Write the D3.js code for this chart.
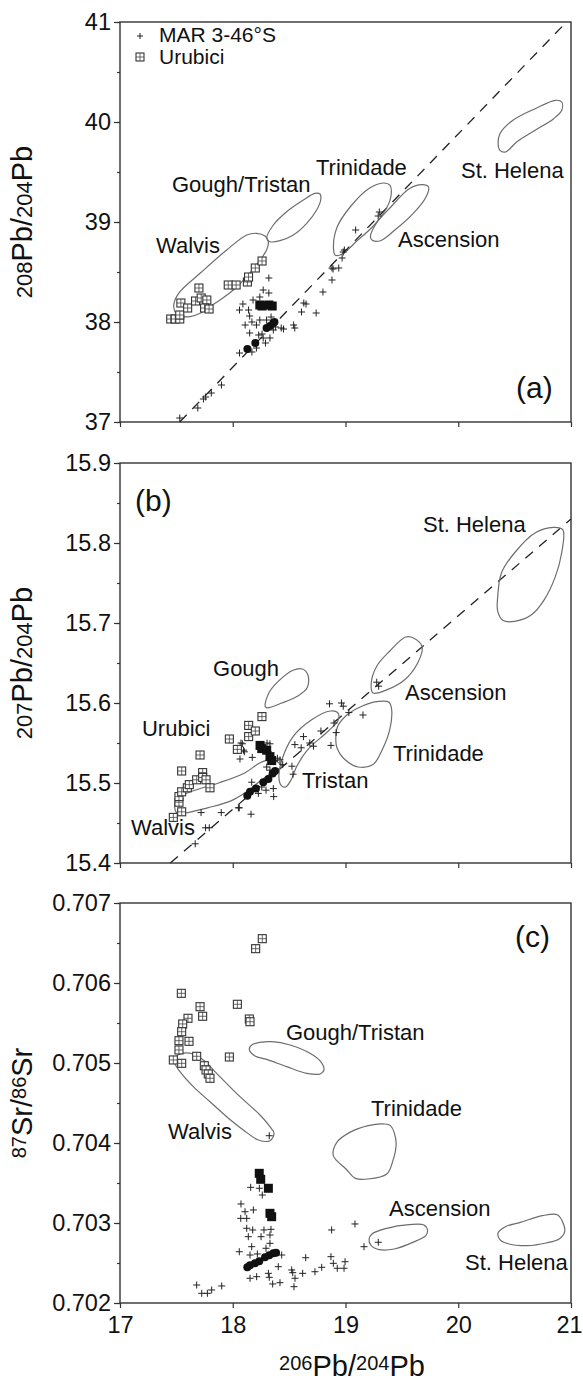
<!DOCTYPE html>
<html><head><meta charset="utf-8">
<script src="https://cdn.jsdelivr.net/npm/d3@7"></script>
<style>
body{margin:0;background:#fff}
svg{display:block}
text{font-family:"Liberation Sans",Arial,Helvetica,sans-serif;fill:#111}
</style>
</head><body><div id="chart"></div>
<script>
// ---------- tick labels ----------
const xTicks = [17, 18, 19, 20, 21];
const yTicksA = [37, 38, 39, 40, 41];
const yTicksB = [15.4, 15.5, 15.6, 15.7, 15.8, 15.9];
const yTicksC = [0.702, 0.703, 0.704, 0.705, 0.706, 0.707];

// ---------- panel (a): 208Pb/204Pb vs 206Pb/204Pb ----------
const marA = [[18.32,38.44],[18.09,38.18],[18.18,38.22],[18.24,38.25],[18.32,38.29],[18.27,38.32],[18.06,38.12],[18.14,38.12],[18.15,38.06],[18.11,37.97],[18.17,38.00],[18.21,37.97],[18.24,38.02],[18.30,38.02],[18.34,38.05],[18.36,37.92],[18.43,37.94],[18.15,37.89],[18.23,37.87],[18.27,37.84],[18.33,37.84],[18.29,37.79],[18.21,37.74],[18.17,37.70],[18.06,37.69],[18.54,37.97],[18.55,37.94],[18.63,38.19],[18.61,38.10],[18.74,38.09],[18.80,38.30],[18.88,38.42],[18.88,38.54],[18.94,38.54],[17.90,37.37],[17.81,37.29],[17.76,37.25],[17.69,37.14],[17.53,37.04],[18.98,38.70],[18.97,38.64],[19.09,38.92],[19.30,39.10],[19.29,39.06],[18.99,38.72],[18.89,38.53],[18.65,38.18],[18.45,37.93],[17.74,37.23],[18.26,37.88],[18.38,37.95]];
const urubiciA = [[17.45,38.03],[17.49,38.03],[17.53,38.03],[17.53,38.07],[17.54,38.19],[17.60,38.14],[17.67,38.21],[17.70,38.34],[17.72,38.24],[17.77,38.22],[17.75,38.14],[17.79,38.13],[17.96,38.37],[18.03,38.37],[18.13,38.40],[18.14,38.45],[18.20,38.54],[18.26,38.61]];
const blackSqA = [[18.24,38.17],[18.26,38.16],[18.32,38.17],[18.35,38.16]];
const blackDotA = [[18.13,37.73],[18.20,37.79],[18.30,37.94],[18.33,37.96],[18.36,37.99],[18.37,38.00]];
const refLineA = [[17.53,37.0],[20.96,41.0]];
const walvisA = [[17.479,38.187],[17.532,38.303],[17.710,38.487],[17.946,38.72],[18.124,38.87],[18.212,38.887],[18.286,38.86],[18.316,38.803],[18.30,38.72],[18.242,38.62],[18.124,38.453],[18.005,38.32],[17.887,38.22],[17.798,38.153],[17.710,38.087],[17.621,38.053],[17.532,38.063],[17.488,38.103]];
const goughTristanA = [[18.301,38.837],[18.360,38.97],[18.478,39.103],[18.626,39.22],[18.729,39.287],[18.774,39.28],[18.780,39.22],[18.744,39.12],[18.656,38.987],[18.537,38.87],[18.419,38.813],[18.330,38.803]];
const trinidadeA = [[18.893,38.75],[18.926,38.95],[19.041,39.15],[19.205,39.333],[19.336,39.39],[19.395,39.367],[19.402,39.25],[19.353,39.117],[19.238,38.95],[19.107,38.817],[18.975,38.683],[18.910,38.667]];
const ascensionA = [[19.221,38.85],[19.271,38.983],[19.402,39.15],[19.566,39.333],[19.681,39.373],[19.737,39.35],[19.714,39.25],[19.599,39.083],[19.435,38.917],[19.304,38.81],[19.238,38.817]];
const stHelenaA = [[20.354,39.783],[20.370,39.883],[20.485,40.017],[20.682,40.133],[20.862,40.217],[20.918,40.2],[20.918,40.117],[20.846,40.033],[20.682,39.917],[20.518,39.8],[20.419,39.7],[20.370,39.717]];
const labelsA = [["Gough/Tristan",17.461,39.30],["Walvis",17.319,38.69],["Trinidade",18.738,39.47],["Ascension",19.466,38.75],["St. Helena",20.024,39.44]];

// ---------- panel (b): 207Pb/204Pb vs 206Pb/204Pb ----------
const marB = [[18.058,15.469],[18.162,15.461],[18.085,15.549],[18.103,15.539],[18.064,15.530],[18.173,15.532],[18.330,15.549],[18.316,15.539],[18.375,15.528],[18.360,15.493],[18.295,15.491],[18.257,15.495],[18.227,15.487],[18.168,15.501],[18.301,15.520],[18.330,15.516],[18.419,15.529],[18.443,15.523],[18.363,15.483],[17.719,15.463],[17.759,15.444],[17.792,15.444],[17.667,15.424],[17.898,15.463],[18.050,15.469],[18.073,15.55],[18.096,15.541],[18.304,15.55],[18.396,15.531],[18.525,15.521],[18.535,15.511],[18.551,15.548],[18.627,15.558],[18.607,15.544],[18.683,15.550],[18.716,15.546],[18.782,15.565],[18.858,15.599],[18.871,15.547],[18.917,15.563],[18.964,15.600],[18.980,15.596],[18.898,15.575],[19.030,15.588],[19.155,15.585],[19.277,15.626],[19.294,15.621]];
const urubiciB = [[17.473,15.457],[17.547,15.464],[17.523,15.476],[17.523,15.483],[17.547,15.489],[17.597,15.494],[17.615,15.498],[17.547,15.515],[17.710,15.535],[17.680,15.504],[17.733,15.513],[17.733,15.507],[17.763,15.504],[17.798,15.494],[17.970,15.555],[18.041,15.542],[18.141,15.572],[18.141,15.558],[18.200,15.565],[18.259,15.583]];
const blackSqB = [[18.242,15.547],[18.257,15.543],[18.301,15.541],[18.330,15.533],[18.345,15.528]];
const blackDotB = [[18.129,15.484],[18.153,15.489],[18.206,15.493],[18.271,15.501],[18.316,15.505],[18.354,15.512],[18.375,15.515]];
const refLineB = [[17.446,15.4],[21.0,15.83]];
const walvisB = [[17.505,15.481],[17.644,15.490],[17.875,15.500],[18.106,15.5125],[18.238,15.525],[18.330,15.529],[18.386,15.527],[18.436,15.521],[18.370,15.515],[18.238,15.502],[18.106,15.4875],[17.974,15.477],[17.776,15.469],[17.578,15.4625],[17.505,15.4625],[17.485,15.473]];
const tristanB = [[18.429,15.497],[18.409,15.508],[18.436,15.529],[18.535,15.558],[18.700,15.579],[18.865,15.590],[18.931,15.588],[18.937,15.579],[18.848,15.565],[18.667,15.542],[18.568,15.521],[18.518,15.504],[18.469,15.495]];
const goughB = [[18.287,15.596],[18.320,15.6125],[18.403,15.627],[18.535,15.641],[18.617,15.6425],[18.667,15.635],[18.660,15.619],[18.568,15.608],[18.436,15.600],[18.304,15.594]];
const trinidadeB = [[18.931,15.571],[19.013,15.585],[19.145,15.596],[19.294,15.602],[19.386,15.601],[19.409,15.592],[19.393,15.567],[19.327,15.542],[19.244,15.523],[19.112,15.520],[18.997,15.529],[18.924,15.544],[18.914,15.556]];
const ascensionB = [[19.228,15.625],[19.277,15.646],[19.393,15.665],[19.535,15.6825],[19.607,15.681],[19.680,15.670],[19.640,15.650],[19.525,15.629],[19.376,15.617],[19.244,15.6125]];
const stHelenaB = [[20.350,15.733],[20.383,15.7625],[20.498,15.7875],[20.680,15.8125],[20.845,15.8196],[20.927,15.8167],[20.917,15.7875],[20.861,15.758],[20.762,15.729],[20.647,15.710],[20.498,15.702],[20.399,15.703],[20.350,15.7146]];
const labelsB = [["St. Helena",19.687,15.814],["Gough",17.825,15.634],["Ascension",19.528,15.604],["Urubici",17.195,15.559],["Trinidade",19.421,15.527],["Tristan",18.614,15.494],["Walvis",17.098,15.435]];

// ---------- panel (c): 87Sr/86Sr vs 206Pb/204Pb ----------
const marC = [[18.159,0.703446],[18.236,0.703434],[18.262,0.703350],[18.073,0.703238],[18.109,0.703141],[18.183,0.703163],[18.071,0.703058],[18.124,0.703058],[18.124,0.702934],[18.177,0.702913],[18.277,0.702913],[18.339,0.702921],[18.138,0.702829],[18.251,0.702829],[18.330,0.702850],[18.168,0.702704],[18.295,0.702684],[18.330,0.702746],[18.058,0.702641],[18.153,0.702600],[18.218,0.702613],[18.434,0.702600],[18.404,0.702454],[18.153,0.702309],[18.212,0.702329],[18.316,0.702371],[18.324,0.702321],[18.354,0.702238],[18.419,0.702254],[18.523,0.702413],[18.532,0.702379],[18.552,0.702309],[18.543,0.702204],[18.620,0.702371],[18.647,0.702566],[18.729,0.702391],[18.789,0.702446],[18.871,0.702579],[18.877,0.702913],[18.892,0.702496],[18.927,0.702434],[18.987,0.702434],[18.996,0.702516],[19.084,0.702988],[19.164,0.702704],[19.291,0.702759],[17.680,0.702225],[17.725,0.702121],[17.775,0.702121],[17.813,0.702163],[17.902,0.702213],[18.324,0.704091]];
const urubiciC = [[18.262,0.706554],[18.203,0.706429],[17.544,0.705871],[17.710,0.705704],[17.733,0.705584],[17.603,0.705559],[18.041,0.705734],[18.147,0.705550],[18.153,0.705516],[17.556,0.705488],[17.547,0.705391],[17.523,0.705279],[17.612,0.705271],[17.523,0.705163],[17.680,0.705084],[17.473,0.705038],[17.547,0.704996],[17.970,0.705075],[17.748,0.704966],[17.763,0.704913],[17.783,0.704863],[17.798,0.704809]];
const blackSqC = [[18.235,0.703621],[18.248,0.703546],[18.316,0.703434],[18.330,0.703121],[18.345,0.703079]];
const blackDotC = [[18.129,0.702446],[18.153,0.702471],[18.197,0.702496],[18.235,0.702521],[18.286,0.702571],[18.324,0.702596],[18.360,0.702621],[18.384,0.702629]];
const walvisC = [[17.488,0.704996],[17.497,0.705079],[17.547,0.705121],[17.650,0.705113],[17.739,0.705038],[17.857,0.704871],[18.064,0.704579],[18.242,0.704350],[18.330,0.704204],[18.366,0.704121],[18.330,0.704029],[18.227,0.704038],[18.094,0.704163],[17.946,0.704329],[17.798,0.704516],[17.650,0.704704],[17.532,0.704891]];
const goughTristanC = [[18.147,0.705171],[18.168,0.705225],[18.242,0.705258],[18.345,0.705267],[18.508,0.705225],[18.685,0.705121],[18.780,0.705017],[18.809,0.704913],[18.774,0.704863],[18.656,0.704871],[18.478,0.704954],[18.301,0.705046],[18.197,0.705088]];
const trinidadeC = [[18.890,0.703850],[18.923,0.704008],[19.038,0.704133],[19.202,0.704217],[19.334,0.704238],[19.399,0.704217],[19.449,0.704008],[19.416,0.703758],[19.366,0.703613],[19.202,0.703550],[19.087,0.703558],[19.005,0.703675],[18.923,0.703779]];
const ascensionC = [[19.209,0.702800],[19.235,0.702863],[19.366,0.702933],[19.564,0.702979],[19.695,0.702975],[19.728,0.702904],[19.712,0.702842],[19.597,0.702758],[19.432,0.702675],[19.301,0.702667],[19.228,0.702717]];
const stHelenaC = [[20.353,0.702875],[20.418,0.702954],[20.550,0.703008],[20.747,0.703092],[20.878,0.703104],[20.921,0.703029],[20.944,0.702892],[20.895,0.702800],[20.780,0.702750],[20.615,0.702717],[20.451,0.702738],[20.369,0.702792]];
const labelsC = [["Gough/Tristan",18.472,0.705288],["Trinidade",19.226,0.704338],["Walvis",17.426,0.704050],["Ascension",19.386,0.703088],["St. Helena",20.060,0.702413]];

const legendItems = ["MAR 3-46°S", "Urubici"];

// ---------- layout ----------
const W = 583, H = 1381;
const left = 120, right = 571, ph = 400;
const FONT = '"Liberation Sans",Arial,Helvetica,sans-serif';
const svg = d3.select("#chart").append("svg").attr("width", W).attr("height", H);
const x = d3.scaleLinear().domain([17, 21]).range([left, right]);

const panels = [
  {top: 22, domain: [37, 41], ticks: yTicksA, minor: 0.5, fmt: d3.format("d"),
   mar: marA, uru: urubiciA, bsq: blackSqA, bdot: blackDotA, ref: refLineA,
   fields: [walvisA, goughTristanA, trinidadeA, ascensionA, stHelenaA], labels: labelsA,
   tag: "(a)", tagPos: [516, 398], title: [["208", 22, 0], ["Pb/", 29, 0], ["204", 22, 0], ["Pb", 29, 0]]},
  {top: 463, domain: [15.4, 15.9], ticks: yTicksB, minor: 0.05, fmt: d3.format(".1f"),
   mar: marB, uru: urubiciB, bsq: blackSqB, bdot: blackDotB, ref: refLineB,
   fields: [walvisB, tristanB, goughB, trinidadeB, ascensionB, stHelenaB], labels: labelsB,
   tag: "(b)", tagPos: [135, 511], title: [["207", 22, 0], ["Pb/", 29, 0], ["204", 22, 0], ["Pb", 29, 0]]},
  {top: 903, domain: [0.702, 0.707], ticks: yTicksC, minor: 0.0005, fmt: d3.format(".3f"),
   mar: marC, uru: urubiciC, bsq: blackSqC, bdot: blackDotC, ref: null,
   fields: [walvisC, goughTristanC, trinidadeC, ascensionC, stHelenaC], labels: labelsC,
   tag: "(c)", tagPos: [515, 947], title: [["87", 20, 1], ["Sr/", 29, 0], ["86", 20, 1], ["Sr", 29, 0]]}
];

const axisCol = "#333";

panels.forEach((p, i) => {
  const y = d3.scaleLinear().domain(p.domain).range([p.top + ph, p.top]);
  const g = svg.append("g");

  // frame
  g.append("rect").attr("x", left).attr("y", p.top).attr("width", right - left).attr("height", ph)
    .attr("fill", "none").attr("stroke", axisCol).attr("stroke-width", 1.4);

  // minor y ticks
  const minorVals = d3.range(p.domain[0], p.domain[1] + p.minor / 2, p.minor);
  g.append("g").attr("transform", `translate(${left},0)`)
    .call(d3.axisLeft(y).tickValues(minorVals).tickSize(3).tickFormat("").tickSizeOuter(0))
    .call(a => a.select(".domain").remove())
    .call(a => a.selectAll("line").attr("stroke", axisCol).attr("stroke-width", 1.2));

  // major y ticks
  g.append("g").attr("transform", `translate(${left},0)`)
    .call(d3.axisLeft(y).tickValues(p.ticks).tickSize(6).tickPadding(3).tickFormat(p.fmt).tickSizeOuter(0))
    .call(a => a.select(".domain").remove())
    .call(a => a.selectAll("line").attr("stroke", axisCol).attr("stroke-width", 1.2))
    .call(a => a.selectAll("text").attr("font-size", 23.5).attr("fill", "#111").attr("font-family", FONT));

  // x ticks
  const xa = g.append("g").attr("transform", `translate(0,${p.top + ph})`)
    .call(d3.axisBottom(x).tickValues(xTicks).tickSize(5).tickPadding(8)
      .tickFormat(i === 2 ? d3.format("d") : "").tickSizeOuter(0));
  xa.select(".domain").remove();
  xa.selectAll("line").attr("stroke", axisCol).attr("stroke-width", 1.2);
  xa.selectAll("text").attr("font-size", 23.5).attr("fill", "#111").attr("font-family", FONT)
    .attr("dx", d => d === 21 ? -2 : 0);

  // y title
  const cy = p.top + ph / 2;
  const t = g.append("text").attr("transform", `translate(32,${cy}) rotate(-90)`)
    .attr("text-anchor", "middle");
  p.title.forEach(([s, fs, sup]) => {
    t.append("tspan").attr("font-size", fs).attr("baseline-shift", sup ? "32%" : null).text(s);
  });

  const plot = g.append("g");

  // reference dashed line
  if (p.ref) {
    plot.append("path").datum(p.ref)
      .attr("d", d3.line().x(d => x(d[0])).y(d => y(d[1])))
      .attr("fill", "none").attr("stroke", "#222").attr("stroke-width", 1.3)
      .attr("stroke-dasharray", "10,8");
  }

  // field outlines
  const outline = d3.line().x(d => x(d[0])).y(d => y(d[1])).curve(d3.curveCatmullRomClosed.alpha(0.5));
  plot.selectAll(".field").data(p.fields).join("path").attr("class", "field")
    .attr("d", outline).attr("fill", "none").attr("stroke", "#6d6d6d").attr("stroke-width", 1.2);

  // MAR crosses
  plot.selectAll(".mar").data(p.mar).join("path").attr("class", "mar")
    .attr("transform", d => `translate(${x(d[0])},${y(d[1])})`)
    .attr("d", "M-3.5,0H3.5M0,-3.5V3.5").attr("stroke", "#222").attr("stroke-width", 1);

  // black circles
  plot.selectAll(".bdot").data(p.bdot).join("circle").attr("class", "bdot")
    .attr("cx", d => x(d[0])).attr("cy", d => y(d[1])).attr("r", 4).attr("fill", "#111");

  // black squares
  plot.selectAll(".bsq").data(p.bsq).join("rect").attr("class", "bsq")
    .attr("x", d => x(d[0]) - 4.5).attr("y", d => y(d[1]) - 4.5)
    .attr("width", 9).attr("height", 9).attr("fill", "#111");

  // Urubici squares
  const us = plot.selectAll(".uru").data(p.uru).join("g").attr("class", "uru")
    .attr("transform", d => `translate(${x(d[0])},${y(d[1])})`);
  us.append("rect").attr("x", -4).attr("y", -4).attr("width", 8).attr("height", 8)
    .attr("fill", "#fff").attr("stroke", "#333").attr("stroke-width", 1.1);
  us.append("path").attr("d", "M-4,0H4M0,-4V4").attr("stroke", "#444").attr("stroke-width", 0.8);

  // labels
  plot.selectAll(".lab").data(p.labels).join("text").attr("class", "lab")
    .attr("x", d => x(d[1])).attr("y", d => y(d[2])).attr("font-size", 22).text(d => d[0]);

  // panel tag
  g.append("text").attr("x", p.tagPos[0]).attr("y", p.tagPos[1]).attr("font-size", 30).text(p.tag);

  // legend (panel a only)
  if (i === 0) {
    const lg = g.append("g");
    lg.append("path").attr("transform", "translate(140,36)").attr("d", "M-3,0H3M0,-3V3")
      .attr("stroke", "#222").attr("stroke-width", 1);
    const sq = lg.append("g").attr("transform", "translate(140,57)");
    sq.append("rect").attr("x", -4).attr("y", -4).attr("width", 8).attr("height", 8)
      .attr("fill", "#fff").attr("stroke", "#333").attr("stroke-width", 1.1);
    sq.append("path").attr("d", "M-4,0H4M0,-4V4").attr("stroke", "#444").attr("stroke-width", 0.8);
    lg.selectAll(".lt").data(legendItems).join("text").attr("class", "lt")
      .attr("x", 159).attr("y", (d, k) => 42 + k * 22).attr("font-size", 21).text(d => d);
  }
});

// x-axis title
const xt = svg.append("text").attr("x", 352).attr("y", 1376).attr("text-anchor", "middle");
[["206", 20, 1], ["Pb/", 29, 0], ["204", 20, 1], ["Pb", 29, 0]].forEach(([s, fs, sup]) => {
  xt.append("tspan").attr("font-size", fs).attr("baseline-shift", sup ? "32%" : null).text(s);
});
</script>
</body></html>
